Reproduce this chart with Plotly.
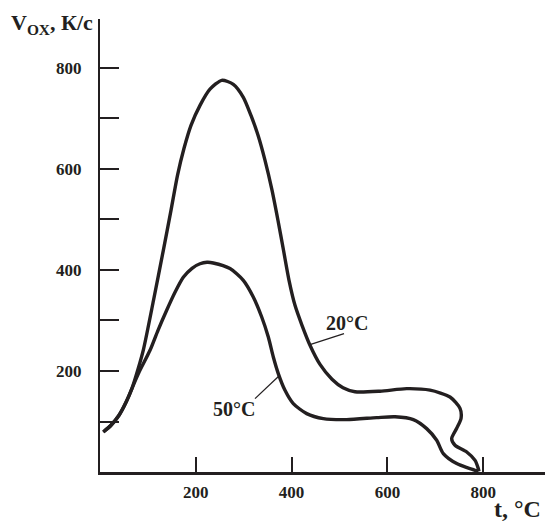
import plotly.graph_objects as go

# 20°C curve (t, °C ; V_OX, K/s)
t20 = [6.9, 23, 39.7, 54.3, 66.8, 79.3, 90.8, 111.7, 132.2, 148.2, 161.8, 175.4, 190,
       208.8, 229.6, 254.1, 278.3, 299.2, 315.2, 329.9, 344.5, 359.1, 371.6, 383.1,
       394.6, 407.1, 421.7, 438.4, 459.3, 484.3, 507.3, 532.4, 584.6, 640.3, 689,
       730.7, 751.6, 753.7, 744.7, 734.2, 741.1, 765.6, 783, 789.8, 791.2]
v20 = [79.2, 92.5, 112.3, 138, 165.7, 203.4, 243, 340, 439, 518, 587.5, 641, 686.5,
       726, 758, 775.6, 767.7, 742, 706, 666.7, 617, 558, 498, 439,
       379.6, 330, 290.5, 251, 213, 183.6, 166.7, 158.8, 160, 165, 162,
       148.5, 126, 106, 86.5, 66, 53, 39.6, 23, 6.7, 1.4]

# 50°C curve
t50 = [6.9, 23, 39.7, 54.3, 66.8, 81.4, 104.4, 121.1, 139.2, 156.6, 173.9, 192.1,
       208.8, 223.4, 236.5, 271.4, 299.2, 320, 337.6, 351.4, 361.8, 372.2, 386.2,
       403.5, 431.5, 466.2, 515, 577.7, 616, 654.1, 682, 702.9, 716.7, 744.7, 782.9, 789.8]
v50 = [79.2, 92.5, 112.3, 138, 165.7, 197.4, 241, 280.6, 320.2, 355.8, 385.5, 403.4,
       412.3, 415.2, 413.9, 402.8, 379.6, 346.5, 306.9, 267.3, 227.7, 194.9, 161.8,
       135.4, 115.6, 105.7, 103.8, 107.7, 109.3, 103.8, 85.9, 62.8, 36.4, 16.6, 3.4, 2.4]

x_ticks = [200, 400, 600, 800]
y_ticks = [200, 400, 600, 800]
y_minor_step = 100

INK = "#231f20"
FONT = "Liberation Serif"

fig = go.Figure()
for tx, vy in [(t20, v20), (t50, v50)]:
    fig.add_trace(go.Scatter(x=tx, y=vy, mode="lines",
                             line=dict(color=INK, width=3.4, shape="spline", smoothing=0.7),
                             showlegend=False, hoverinfo="skip"))

fig.update_layout(
    width=545, height=523,
    margin=dict(l=100, r=0, t=19, b=51),
    paper_bgcolor="white", plot_bgcolor="white",
    showlegend=False,
    xaxis=dict(range=[0, 929], showline=True, linewidth=2.5, linecolor=INK,
               ticks="inside", ticklen=15, tickwidth=2, tickcolor=INK,
               tickvals=x_ticks, showgrid=False, zeroline=False,
               tickfont=dict(family=FONT, size=17, color=INK, weight="bold"),
               ticklabelstandoff=3),
    yaxis=dict(range=[0, 897], showline=True, linewidth=2, linecolor=INK,
               ticks="inside", ticklen=19, tickwidth=2, tickcolor=INK,
               tickvals=y_ticks, showgrid=False, zeroline=False,
               minor=dict(ticks="inside", ticklen=19, tickwidth=2, tickcolor=INK,
                          dtick=y_minor_step, tick0=0, showgrid=False),
               tickfont=dict(family=FONT, size=17, color=INK, weight="bold"),
               ticklabelstandoff=13),
)

lab = dict(family=FONT, color=INK, weight="bold")
fig.add_annotation(x=-48, y=-18, xref="x", yref="y", text="0", showarrow=False,
                   font=dict(size=17, **lab))
fig.add_annotation(x=0.9955, y=-0.082, xref="paper", yref="paper", text="t, °C",
                   showarrow=False, xanchor="right", yanchor="middle",
                   font=dict(size=24, **lab))
fig.add_annotation(x=-0.2045, y=0.99, xref="paper", yref="paper",
                   text="V<sub>OX</sub>, К/с", showarrow=False,
                   xanchor="left", yanchor="middle", font=dict(size=22, **lab))
fig.add_annotation(x=515.7, y=294.5, xref="x", yref="y", text="20°C", showarrow=False,
                   font=dict(size=20, **lab))
fig.add_annotation(x=278.7, y=124, xref="x", yref="y", text="50°C", showarrow=False,
                   font=dict(size=20, **lab))

fig.add_shape(type="line", x0=509.4, y0=274, x1=440, y1=252.9, xref="x", yref="y",
              line=dict(color=INK, width=1.3))
fig.add_shape(type="line", x0=323.6, y0=145.3, x1=373, y1=189.5, xref="x", yref="y",
              line=dict(color=INK, width=1.3))

fig.write_html("out.html")
